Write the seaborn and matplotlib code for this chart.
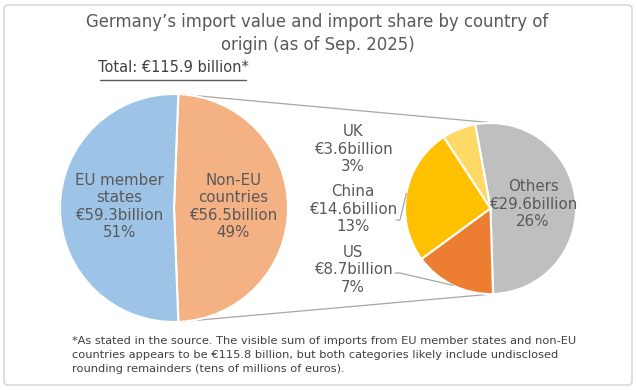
import numpy as np
import matplotlib
matplotlib.use("Agg")
import matplotlib.pyplot as plt
from matplotlib.patches import FancyBboxPatch
import seaborn as sns

# ---- data ----
main_labels = ["Non-EU\ncountries", "EU member\nstates"]
main_values = [56.5, 59.3]           # € billion
main_pct = ["49%", "51%"]
sub_labels = ["Others", "UK", "China", "US"]
sub_values = [29.6, 3.6, 14.6, 8.7]  # € billion
sub_pct = ["26%", "3%", "13%", "7%"]
title = "Germany\u2019s import value and import share by country of\norigin (as of Sep. 2025)"
total_text = "Total: \u20ac115.9 billion*"
footnote = ("*As stated in the source. The visible sum of imports from EU member states and non-EU\n"
            "countries appears to be \u20ac115.8 billion, but both categories likely include undisclosed\n"
            "rounding remainders (tens of millions of euros).")

sns.set_theme(style="white")
plt.rcParams['font.family'] = ['DejaVu Sans']

TXT = "#595959"
main_colors = ["#F4B183", "#9DC3E6"]
sub_colors = ["#BFBFBF", "#FFD966", "#FFC000", "#ED7D31"]

W, H = 637, 390
fig = plt.figure(figsize=(W / 100, H / 100), dpi=100)
ax = fig.add_axes([0, 0, 1, 1])

c1, r1 = (174, H - 208), 114
c2, r2 = (490.5, H - 208.5), 85.5

ne_angle = main_values[0] / sum(main_values) * 360
w1, _ = ax.pie(main_values, colors=main_colors, startangle=-ne_angle / 2,
               counterclock=True, center=c1, radius=r1,
               wedgeprops=dict(edgecolor="white", linewidth=1.5))
w2, _ = ax.pie(sub_values, colors=sub_colors, startangle=-88.3,
               counterclock=True, center=c2, radius=r2,
               wedgeprops=dict(edgecolor="white", linewidth=1.5))

def pt(c, r, ang, f=1.0):
    a = np.deg2rad(ang)
    return c[0] + f * r * np.cos(a), c[1] + f * r * np.sin(a)

# connector lines
lc = "#A6A6A6"
for a1, a2 in [(ne_angle / 2, 85.7), (-ne_angle / 2, -88.3)]:
    p1 = pt(c1, r1, a1)
    p2 = pt(c2, r2, a2)
    ax.plot([p1[0], p2[0]], [p1[1], p2[1]], color=lc, lw=0.9, zorder=0)

fs = 10.8
ls = 1.2
# main pie labels
for wd, lab, v, p, f in zip(w1, main_labels, main_values, main_pct, [0.52, 0.48]):
    mid = (wd.theta1 + wd.theta2) / 2
    x, y = pt(c1, r1, mid, f)
    ax.text(x, y + 1.5, f"{lab}\n\u20ac{v}billion\n{p}", ha="center", va="center",
            color=TXT, fontsize=fs, linespacing=ls)

# sub pie: Others inside
wd = w2[0]
mid = (wd.theta1 + wd.theta2) / 2
x, y = pt(c2, r2, mid, 0.5)
ax.text(x, y, f"{sub_labels[0]}\n\u20ac{sub_values[0]}billion\n{sub_pct[0]}",
        ha="center", va="center", color=TXT, fontsize=fs, linespacing=ls)

# outside labels
out_pos = {1: (353, H - 149), 2: (353, H - 209), 3: (353, H - 270)}
for i, (lx, ly) in out_pos.items():
    ax.text(lx, ly, f"{sub_labels[i]}\n\u20ac{sub_values[i]}billion\n{sub_pct[i]}",
            ha="center", va="center", color=TXT, fontsize=fs, linespacing=ls)

# leader lines
wc = w2[2]
mc = (wc.theta1 + wc.theta2) / 2
ex, ey = pt(c2, r2, mc)
ax.plot([396, 400, ex], [H - 220, H - 220, ey], color=lc, lw=0.9)
wu = w2[3]
mu = (wu.theta1 + wu.theta2) / 2
ex, ey = pt(c2, r2, mu)
ax.plot([395, 400, ex], [H - 273, H - 273, ey], color=lc, lw=0.9)

# title and texts
ax.text(W / 2 - 1, H - 33.5, title, ha="center", va="center", color=TXT,
        fontsize=11.9, linespacing=1.35)
ax.text(98, H - 68, total_text, ha="left", va="center", color="#404040", fontsize=10.5)
ax.plot([100, 246], [H - 80, H - 80], color="#595959", lw=1)
ax.text(72, H - 355, footnote, ha="left", va="center", color="#404040",
        fontsize=8.2, linespacing=1.46)

border = FancyBboxPatch((4, 5), 628, 380, boxstyle="round,pad=0,rounding_size=4",
                        facecolor="none", edgecolor="#D9D9D9", lw=1.2)
ax.add_patch(border)

ax.set_xlim(0, W)
ax.set_ylim(0, H)
ax.set_aspect("equal")
ax.axis("off")
fig.savefig("out.png", dpi=100)
